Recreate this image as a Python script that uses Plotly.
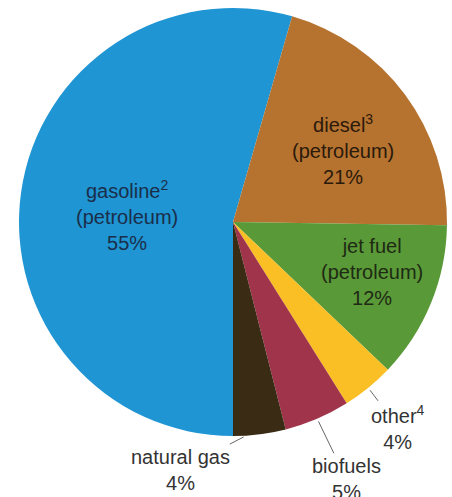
import math
import plotly.graph_objects as go

# ---- data ----
categories = ["gasoline", "diesel", "jet fuel", "other", "biofuels", "natural gas"]
label_texts = ["gasoline<sup>2</sup><br>(petroleum)<br>55%",
               "diesel<sup>3</sup><br>(petroleum)<br>21%",
               "jet fuel<br>(petroleum)<br>12%",
               "other<sup>4</sup><br>4%",
               "biofuels<br>5%",
               "natural gas<br>4%"]
shares = [55, 21, 12, 4, 5, 4]
colors = ["#1F95D3", "#B6722F", "#5A9937", "#F9BF25", "#A0344A", "#3A2B14"]

# ---- layout geometry (pixels) ----
W, H = 452, 497
CX, CY, R = 233, 222, 214
START = 180  # first slice starts at 6 o'clock, going clockwise

fig = go.Figure()
fig.add_trace(go.Pie(
    labels=categories,
    values=shares,
    sort=False,
    direction="clockwise",
    rotation=START,
    marker=dict(colors=colors, line=dict(width=0)),
    textinfo="none",
    hoverinfo="label+percent",
    showlegend=False,
    domain=dict(x=[(CX - R) / W, (CX + R) / W],
                y=[1 - (CY + R) / H, 1 - (CY - R) / H]),
))

# label placement computed from slice angles
total = sum(shares)
# inside: radial fraction, pixel nudge (dx, dy)
inside = {0: (0.50, 0, 8), 1: (0.61, 5, 5), 2: (0.69, 2, -6)}
# outside: position within slice (0..1), text offset (ax, ay)
outside = {3: (0.5, 30, 40), 4: (0.5, 29, 60), 5: (0.75, -66, 34)}
text_colors = ["#1A2E4A", "#2A1A0C", "#1E2A14", "#333333", "#333333", "#333333"]
cum = 0.0
for i, v in enumerate(shares):
    s0 = START + cum / total * 360.0
    span = v / total * 360.0
    cum += v
    if i in inside:
        f, dx, dy = inside[i]
        a = math.radians(s0 + span / 2)
        px = CX + R * f * math.sin(a)
        py = CY - R * f * math.cos(a)
        fig.add_annotation(x=px / W, y=1 - py / H, xref="paper", yref="paper",
                           xanchor="center", yanchor="middle",
                           xshift=dx, yshift=-dy,
                           text=label_texts[i], showarrow=False,
                           font=dict(family="Liberation Sans, Arial, sans-serif",
                                     size=20, color=text_colors[i]),
                           align="center")
    else:
        t, axo, ayo = outside[i]
        a = math.radians(s0 + span * t)
        px = CX + R * math.sin(a)
        py = CY - R * math.cos(a)
        fig.add_annotation(x=px / W, y=1 - py / H, xref="paper", yref="paper",
                           text=label_texts[i], showarrow=True, arrowhead=0,
                           arrowwidth=1, arrowcolor="#666666", standoff=3,
                           ax=axo, ay=ayo,
                           font=dict(family="Liberation Sans, Arial, sans-serif",
                                     size=20, color=text_colors[i]),
                           align="center")

fig.update_layout(
    width=W, height=H,
    margin=dict(l=0, r=0, t=0, b=0),
    paper_bgcolor="white", plot_bgcolor="white",
    showlegend=False,
)

fig.write_html("out.html", config={"displayModeBar": False},
               post_script="document.body.style.margin='0';")
